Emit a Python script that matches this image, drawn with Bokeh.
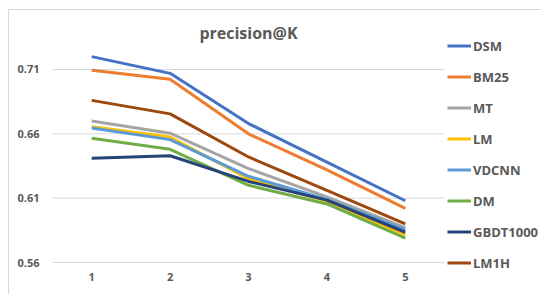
from bokeh.plotting import figure
from bokeh.models import Legend, LegendItem, FixedTicker, Range1d, Label
from bokeh.embed import file_html
from bokeh.resources import INLINE

k_values = [1, 2, 3, 4, 5]
series_names = ["DSM", "BM25", "MT", "LM", "VDCNN", "DM", "GBDT1000", "LM1H"]
dsm = [0.720, 0.707, 0.668, 0.638, 0.608]
bm25 = [0.7095, 0.7025, 0.660, 0.632, 0.602]
mt = [0.670, 0.6605, 0.633, 0.611, 0.587]
lm = [0.6655, 0.6575, 0.625, 0.6075, 0.5815]
vdcnn = [0.6645, 0.6555, 0.627, 0.609, 0.5855]
dm = [0.6565, 0.648, 0.620, 0.6055, 0.579]
gbdt1000 = [0.641, 0.643, 0.623, 0.6085, 0.5835]
lm1h = [0.686, 0.6755, 0.642, 0.616, 0.590]
y_ticks = [0.56, 0.61, 0.66, 0.71]
title_text = "precision@K"

colors = ["#4472C4", "#ED7D31", "#A5A5A5", "#FFC000", "#5B9BD5", "#70AD47", "#264478", "#9E480E"]
all_series = [dsm, bm25, mt, lm, vdcnn, dm, gbdt1000, lm1h]

FONT = "Open Sans"
GRAY = "#595959"

# pixel scale: 78.4 px per K step, 1286.7 px per unit of precision
x_start = k_values[0] - 0.5
x_end = x_start + 490 / 78.4
y_start = y_ticks[0] - 10 / 1286.7
y_end = y_ticks[0] + 252 / 1286.7

p = figure(width=533, height=285, output_backend="svg", toolbar_location=None, title=None,
           x_range=Range1d(x_start, x_end), y_range=Range1d(y_start, y_end),
           min_border_left=43, min_border_right=0, min_border_top=0, min_border_bottom=23)
p.styles = {"margin-left": "8px", "margin-top": "9px",
            "border-left": "1px solid #d9d9d9", "border-top": "1px solid #d9d9d9"}
p.outline_line_color = None
p.background_fill_color = "white"
p.border_fill_color = "white"

p.xaxis.ticker = FixedTicker(ticks=k_values)
p.yaxis.ticker = FixedTicker(ticks=y_ticks)
p.yaxis.formatter.use_scientific = False
for ax in (p.xaxis[0], p.yaxis[0]):
    ax.axis_line_color = None
    ax.major_tick_line_color = None
    ax.minor_tick_line_color = None
    ax.major_tick_out = 0
    ax.major_tick_in = 0
    ax.minor_tick_out = 0
    ax.major_label_text_font = FONT
    ax.major_label_text_font_size = "11px"
    ax.major_label_text_font_style = "bold"
    ax.major_label_text_color = GRAY
p.yaxis.major_label_standoff = 13
p.xaxis.major_label_standoff = 0
p.xgrid.grid_line_color = None
p.ygrid.grid_line_color = None

# horizontal gridlines spanning only the category area
p.segment(x0=[k_values[0] - 0.5] * len(y_ticks), x1=[k_values[-1] + 0.5] * len(y_ticks),
          y0=y_ticks, y1=y_ticks, line_color="#d9d9d9", line_width=1)

items = []
for name, vals, c in zip(series_names, all_series, colors):
    r = p.line(k_values, vals, line_color=c, line_width=3, line_join="round")
    items.append(LegendItem(label=name, renderers=[r]))

legend = Legend(items=items, location=(395, -1), border_line_color=None,
                background_fill_alpha=0, label_text_font=FONT,
                label_text_font_size="13px", label_text_font_style="bold",
                label_text_color=GRAY, glyph_width=24, glyph_height=21,
                label_height=21, spacing=10, padding=0, margin=0,
                label_standoff=2)
p.add_layout(legend, "center")

title = Label(x=sum(k_values) / len(k_values), y=y_ticks[0] + 230 / 1286.7, text=title_text,
              text_align="center", text_baseline="middle", text_font=FONT,
              text_font_size="16px", text_font_style="bold", text_color=GRAY)
p.add_layout(title)

open("out.html", "w").write(file_html(p, INLINE))
